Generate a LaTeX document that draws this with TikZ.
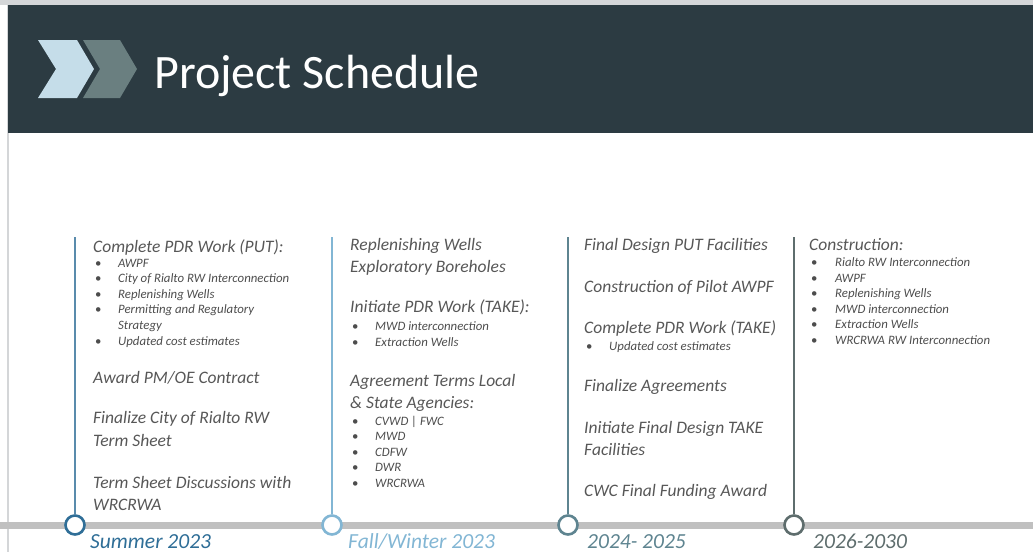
\documentclass[tikz,border=0pt]{standalone}
\usepackage{fontspec}
\setmainfont{Carlito}
\usetikzlibrary{calc}

\definecolor{hdrdark}{HTML}{2C3B42}
\definecolor{edgegray}{HTML}{D4D6D8}
\definecolor{chevlight}{HTML}{C5DDE9}
\definecolor{chevgray}{HTML}{6A7F80}
\definecolor{bargray}{HTML}{C0C0C0}
\definecolor{txtgray}{HTML}{575757}
\definecolor{itemgray}{HTML}{4D4D4D}
\definecolor{tlblue}{HTML}{2F6E97}
\definecolor{tllight}{HTML}{82B6D4}
\definecolor{tlteal}{HTML}{5E8490}
\definecolor{tlgray}{HTML}{5E6D6D}

\tikzset{
  title/.style={anchor=base west, inner sep=0pt, text=white, font=\fontsize{48}{54}\selectfont},
  head/.style={anchor=base west, inner sep=0pt, text=txtgray, font=\fontsize{17.5}{20}\selectfont\itshape},
  item/.style={anchor=base west, inner sep=0pt, text=itemgray, font=\fontsize{12.8}{15}\selectfont\itshape},
  dot/.style={anchor=base west, inner sep=0pt, text=itemgray, font=\fontsize{12.8}{15}\selectfont},
  year/.style={anchor=base west, inner sep=0pt, font=\fontsize{21.5}{24}\selectfont\itshape},
  stem/.style={line width=1.4pt},
  knot/.style={circle, draw, fill=white, line width=2.6pt, minimum size=19pt, inner sep=0pt}
}

\begin{document}
\begin{tikzpicture}[x=1pt,y=-1pt]
%%%%% START %%%%%
\useasboundingbox (0,0) rectangle (1033,552);

% header band
\fill[edgegray] (0,0) rectangle (1033,5);
\draw[edgegray, line width=1.2pt] (8,5) -- (8,552);
\fill[hdrdark] (8,5) rectangle (1033,133);
\fill[chevlight] (38,40) -- (77,40) -- (94,69) -- (77,98) -- (38,98) -- (56,69) -- cycle;
\fill[chevgray] (83,40) -- (120,40) -- (137,69) -- (120,98) -- (83,98) -- (100,69) -- cycle;
\node[title] (title) at (154,88) {Project Schedule};

% timeline
\fill[bargray] (0,522) rectangle (1033,528.5);

\coordinate (top1) at (75,237);
\coordinate (top2) at (332,237);
\coordinate (top3) at (568,237);
\coordinate (top4) at (794,237);

\node[knot, draw=tlblue] (k1) at (75,525) {};
\node[knot, draw=tllight] (k2) at (332,525) {};
\node[knot, draw=tlteal] (k3) at (568,525) {};
\node[knot, draw=tlgray] (k4) at (794,525) {};

\draw[stem, color=tlblue!80] (top1) -- (k1);
\draw[stem, color=tllight] (top2) -- (k2);
\draw[stem, color=tlteal] (top3) -- (k3);
\draw[stem, color=tlgray] (top4) -- (k4);

\node[year, text=tlblue] (y1) at (90,548) {Summer 2023};
\node[year, text=tllight] (y2) at (348,548) {Fall/Winter 2023};
\node[year, text=tlteal] (y3) at (587,548) {2024- 2025};
\node[year, text=tlgray] (y4) at (813,548) {2026-2030};

% column 1
\node[head] (h1a) at (93,252) {Complete PDR Work (PUT):};
\foreach \y/\t [count=\i] in {267/AWPF, 282/City of Rialto RW Interconnection, 298/Replenishing Wells, 313/Permitting and Regulatory, 345/Updated cost estimates}
  {\node[dot] (d1-\i) at (95,\y) {\textbullet}; \node[item] (t1-\i) at (118,\y) {\t};}
\node[item] (t1-s) at (118,329) {Strategy};
\node[head] (h1b) at (93,383) {Award PM/OE Contract};
\node[head] (h1c) at (93,423) {Finalize City of Rialto RW};
\node[head] (h1d) at (93,446) {Term Sheet};
\node[head] (h1e) at (93,488) {Term Sheet Discussions with};
\node[head] (h1f) at (93,510) {WRCRWA};

% column 2
\node[head] (h2a) at (350,250) {Replenishing Wells};
\node[head] (h2b) at (350,272) {Exploratory Boreholes};
\node[head] (h2c) at (350,312) {Initiate PDR Work (TAKE):};
\foreach \y/\t [count=\i] in {330/MWD interconnection, 346/Extraction Wells}
  {\node[dot] (d2-\i) at (352,\y) {\textbullet}; \node[item] (t2-\i) at (375,\y) {\t};}
\node[head] (h2d) at (350,386) {Agreement Terms Local};
\node[head] (h2e) at (350,408) {\& State Agencies:};
\foreach \y/\t [count=\i] in {425/CVWD | FWC, 440/MWD, 456/CDFW, 471/DWR, 487/WRCRWA}
  {\node[dot] (d2b-\i) at (352,\y) {\textbullet}; \node[item] (t2b-\i) at (375,\y) {\t};}

% column 3
\node[head] (h3a) at (584,250) {Final Design PUT Facilities};
\node[head] (h3b) at (584,292) {Construction of Pilot AWPF};
\node[head] (h3c) at (584,333) {Complete PDR Work (TAKE)};
\node[dot] (d3-1) at (586,350) {\textbullet};
\node[item] (t3-1) at (609,350) {Updated cost estimates};
\node[head] (h3d) at (584,391) {Finalize Agreements};
\node[head] (h3e) at (584,433) {Initiate Final Design TAKE};
\node[head] (h3f) at (584,455) {Facilities};
\node[head] (h3g) at (584,496) {CWC Final Funding Award};

% column 4
\node[head] (h4a) at (809,250) {Construction:};
\foreach \y/\t [count=\i] in {266/Rialto RW Interconnection, 282/AWPF, 297/Replenishing Wells, 313/MWD interconnection, 328/Extraction Wells, 344/WRCRWA RW Interconnection}
  {\node[dot] (d4-\i) at (811,\y) {\textbullet}; \node[item] (t4-\i) at (835,\y) {\t};}

%%%%% END %%%%%
\end{tikzpicture}
\end{document}
